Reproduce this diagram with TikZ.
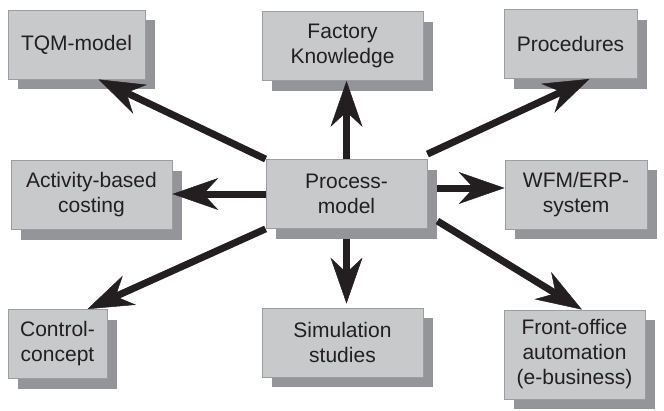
\documentclass[tikz,border=0pt]{standalone}
\usepackage{fontspec}
\setmainfont{Liberation Sans}
\usetikzlibrary{arrows.meta,shadows}
\definecolor{boxgray}{HTML}{C8C9CB}
\definecolor{edgegray}{HTML}{9C9DA0}
\definecolor{shadegray}{HTML}{939598}
\definecolor{textgray}{HTML}{231F20}
\begin{document}
\begin{tikzpicture}[x=1pt, y=-1pt,
    box/.style={draw=edgegray, line width=0.8pt, fill=boxgray, text=textgray,
      minimum height=69pt, align=center, inner sep=0pt,
      font=\fontsize{21}{25}\selectfont,
      drop shadow={shadow xshift=10pt, shadow yshift=-10pt, fill=shadegray, opacity=1}},
    link/.style={line width=7pt, draw=textgray,
      -{Stealth[length=46pt, width=32pt, inset=15pt, line width=0.5pt, fill=textgray]}}]
    \useasboundingbox (0,0) rectangle (664,410);

    % Boxes
    \node[box, minimum width=137pt] (tqm) at (76.5,44.5) {TQM-model};
    \node[box, minimum width=161pt] (factory) at (342.5,46) {Factory\\Knowledge};
    \node[box, minimum width=133pt] (proc) at (570.5,44) {Procedures};
    \node[box, minimum width=161pt] (abc) at (91.5,195) {Activity-based\\costing};
    \node[box, minimum width=161pt] (model) at (346.5,194) {Process-\\model};
    \node[box, minimum width=142pt] (wfm) at (576,194.5) {WFM/ERP-\\system};
    \node[box, minimum width=99pt] (control) at (57.5,344) {Control-\\concept};
    \node[box, minimum width=161pt] (sim) at (342.5,342.5) {Simulation\\studies};
    \node[box, minimum width=141pt, minimum height=89pt] (front) at (574.5,354.5) {Front-office\\automation\\(e-business)};

    % Arrows from the process model
    \draw[link] (model.north west) -- ([xshift=22pt]tqm.south);
    \draw[link] (model.north) -- (model.north |- factory.south);
    \draw[link] ([yshift=5pt]model.north east) -- ([xshift=19pt]proc.south);
    \draw[link] (model.west) -- (model.west -| abc.east);
    \draw[link] ([xshift=10pt, yshift=6pt]model.east) -- ([yshift=6pt]model.east -| wfm.west);
    \draw[link] (model.south west) -- ([xshift=-20pt]control.north east);
    \draw[link] ([yshift=-10pt]model.south) -- ([yshift=4pt]model.south |- sim.north);
    \draw[link] ([xshift=10pt, yshift=-27pt]model.east) -- ([xshift=7.5pt]front.north);
\end{tikzpicture}
\end{document}
